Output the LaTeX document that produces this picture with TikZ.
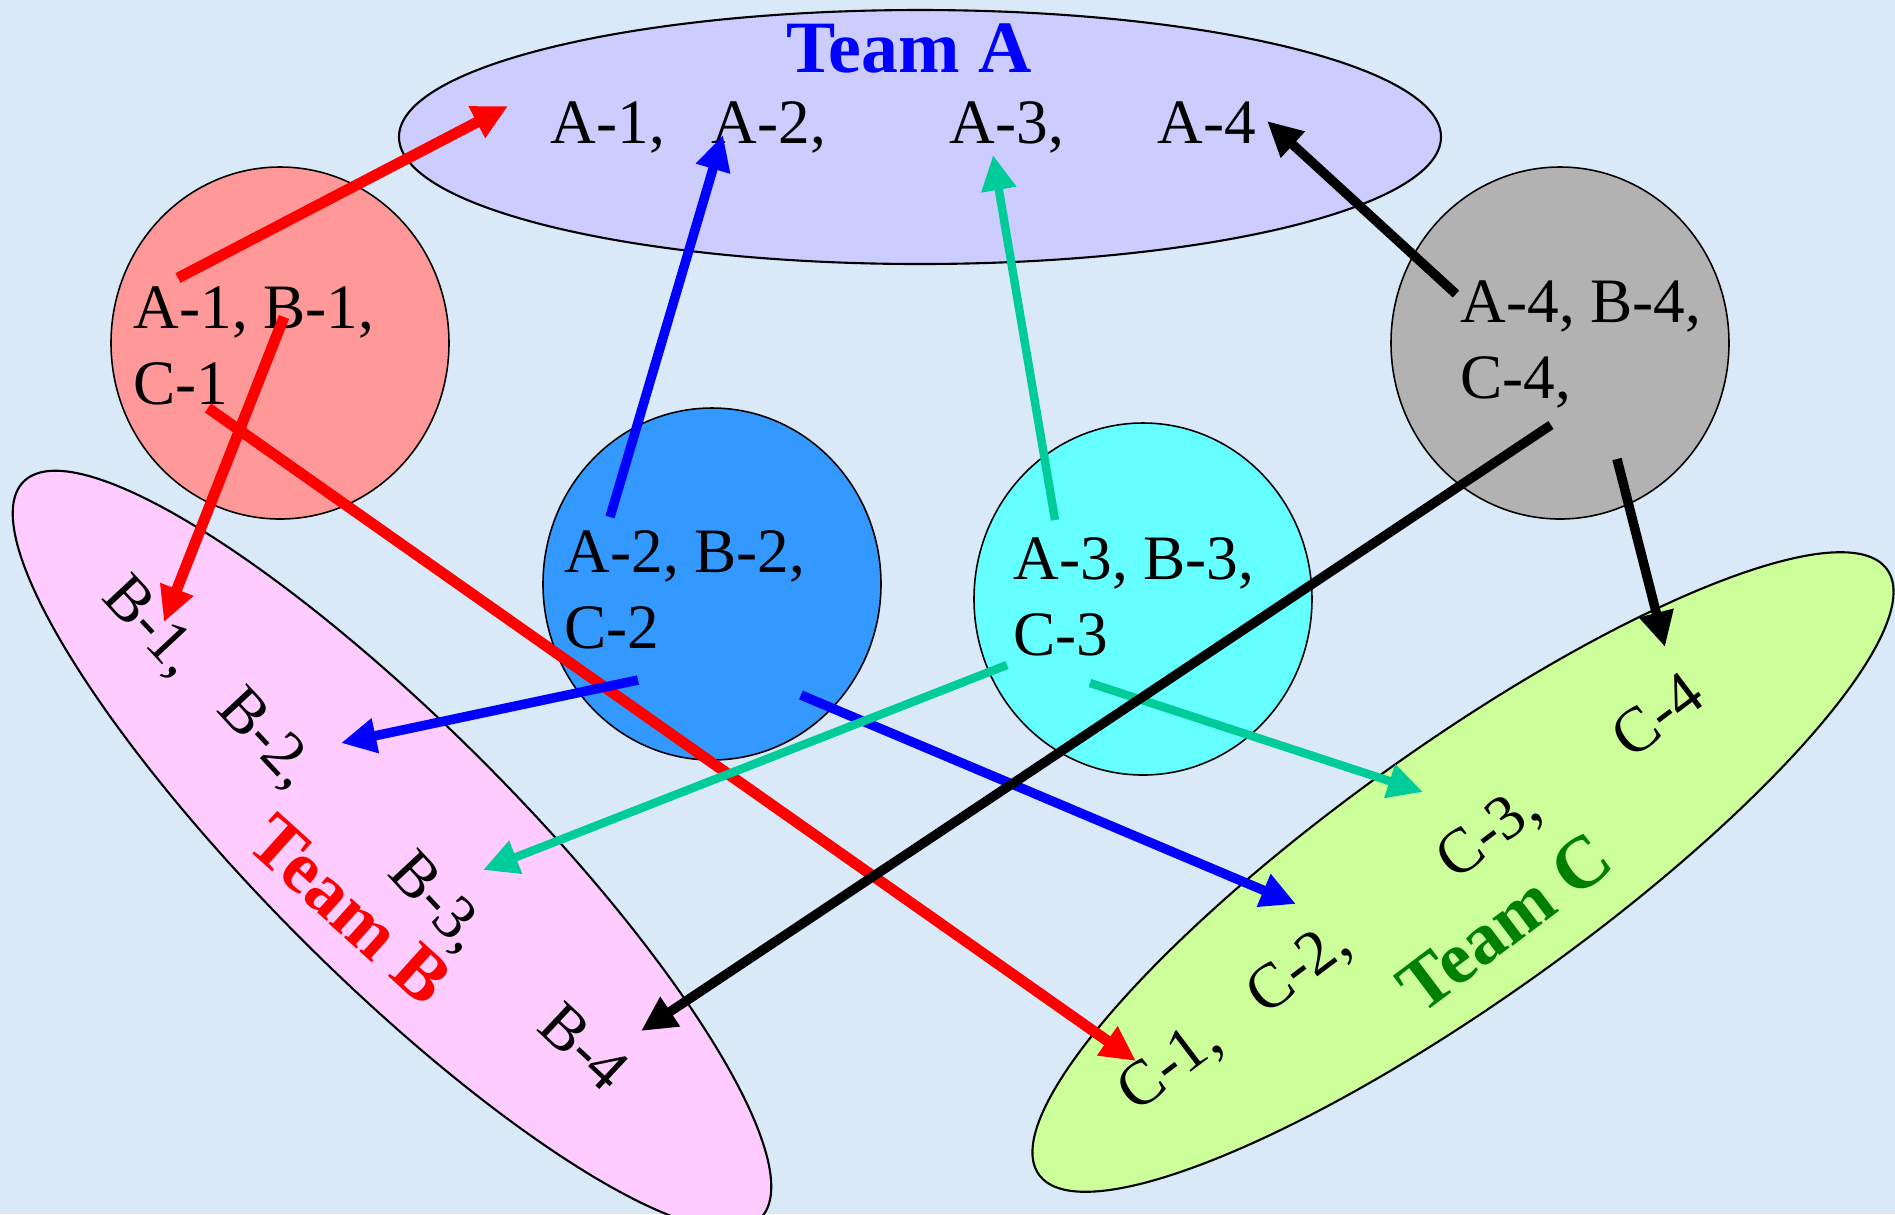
\documentclass[tikz,border=0pt]{standalone}
\usepackage{fontspec}
\setmainfont{Liberation Serif}
\usepackage{xcolor}
\usetikzlibrary{shapes.geometric, arrows.meta}

\definecolor{bgblue}{RGB}{218,233,247}
\definecolor{teamAfill}{RGB}{204,204,255}
\definecolor{teamBfill}{RGB}{255,204,255}
\definecolor{teamCfill}{RGB}{204,255,153}
\definecolor{g1fill}{RGB}{255,153,153}
\definecolor{g2fill}{RGB}{51,153,255}
\definecolor{g3fill}{RGB}{102,255,255}
\definecolor{g4fill}{RGB}{178,178,178}
\definecolor{linkteal}{RGB}{0,204,153}
\definecolor{teamCgreen}{RGB}{0,128,0}

\begin{document}
\begin{tikzpicture}[>={Triangle[length=10pt, width=9.5pt]}]
        % Styles
        \tikzset{
            team/.style={draw, ellipse, line width=0.6pt, minimum width=10.42cm, minimum height=2.54cm, inner sep=0pt},
            group/.style={draw, ellipse, line width=0.45pt, minimum width=3.38cm, minimum height=3.52cm, inner sep=0pt},
            item/.style={font=\fontsize{18}{21.5}\selectfont, inner sep=0pt},
            list/.style={item, align=left, anchor=north west},
            teamlabel/.style={font=\fontsize{21}{25}\selectfont\bfseries, inner sep=0pt},
            link/.style={->, line width=2.7pt}
        }

        % Background
        \fill [bgblue] (0,0) rectangle (18.95,-12.14);
        \useasboundingbox (0,0) rectangle (18.95,-12.14);

        % Team ellipses
        \node [team, fill=teamAfill] (teamA) at (9.20,-1.37) {};
        \node [team, fill=teamBfill, rotate=-45] (teamB) at (3.92,-8.50) {};
        \node [team, fill=teamCfill, rotate=35.5] (teamC) at (14.63,-8.72) {};

        % Mixed groups
        \node [group, fill=g1fill] (g1) at (2.80,-3.43) {};
        \node [group, fill=g2fill] (g2) at (7.12,-5.84) {};
        \node [group, fill=g3fill] (g3) at (11.43,-5.99) {};
        \node [group, fill=g4fill] (g4) at (15.60,-3.43) {};

        \node [list] (g1txt) at (1.33,-2.86) {A-1, B-1,\\C-1};
        \node [list] (g2txt) at (5.64,-5.30) {A-2, B-2,\\C-2};
        \node [list] (g3txt) at (10.13,-5.37) {A-3, B-3,\\C-3};
        \node [list] (g4txt) at (14.60,-2.80) {A-4, B-4,\\C-4,};

        % Team A
        \node [teamlabel, text=blue] (lblA) at (9.09,-0.48) {Team A};
        \node [item, anchor=base west] (a1) at (5.50,-1.43) {A-1,};
        \node [item, anchor=base west] (a2) at (7.11,-1.43) {A-2,};
        \node [item, anchor=base west] (a3) at (9.49,-1.43) {A-3,};
        \node [item, anchor=base west] (a4) at (11.57,-1.43) {A-4};

        % Team B
        \node [teamlabel, text=red, rotate=-42] (lblB) at (3.50,-9.10) {Team B};
        \node [item, rotate=-47] (b1) at (1.50,-6.28) {B-1,};
        \node [item, rotate=-47] (b2) at (2.65,-7.40) {B-2,};
        \node [item, rotate=-47] (b3) at (4.36,-9.04) {B-3,};
        \node [item, rotate=-43] (b4) at (5.84,-10.47) {B-4};

        % Team C
        \node [teamlabel, text=teamCgreen, rotate=37] (lblC) at (15.05,-9.22) {Team C};
        \node [item, rotate=37] (c1) at (11.71,-10.67) {C-1,};
        \node [item, rotate=37] (c2) at (13.00,-9.70) {C-2,};
        \node [item, rotate=37] (c3) at (14.90,-8.35) {C-3,};
        \node [item, rotate=37] (c4) at (16.57,-7.15) {C-4};

        % Arrow ends
        \coordinate (g1a) at (1.78,-2.78);  \coordinate (toA1) at (5.08,-1.06);
        \coordinate (g1b) at (2.84,-3.17);  \coordinate (toB1) at (1.64,-6.22);
        \coordinate (g1c) at (2.08,-4.08);  \coordinate (toC1) at (11.36,-10.61);
        \coordinate (g2a) at (6.10,-5.17);  \coordinate (toA2) at (7.23,-1.35);
        \coordinate (g2b) at (6.38,-6.80);  \coordinate (toB2) at (3.41,-7.43);
        \coordinate (g2c) at (8.01,-6.95);  \coordinate (toC2) at (12.96,-9.04);
        \coordinate (g3a) at (10.55,-5.20); \coordinate (toA3) at (9.93,-1.55);
        \coordinate (g3b) at (10.07,-6.65); \coordinate (toB3) at (4.83,-8.70);
        \coordinate (g3c) at (10.90,-6.83); \coordinate (toC3) at (14.23,-7.92);
        \coordinate (g4a) at (14.56,-2.94); \coordinate (toA4) at (12.67,-1.21);
        \coordinate (g4b) at (15.51,-4.25); \coordinate (toB4) at (6.41,-10.31);
        \coordinate (g4c) at (16.17,-4.59); \coordinate (toC4) at (16.65,-6.47);

        % Arrows
        \draw [link, red, line width=3.1pt] (g1a) -- (toA1);
        \draw [link, red, line width=3.1pt] (g1b) -- (toB1);
        \draw [link, red, line width=3.1pt] (g1c) -- (toC1);
        \draw [link, blue] (g2a) -- (toA2);
        \draw [link, blue] (g2b) -- (toB2);
        \draw [link, blue] (g2c) -- (toC2);
        \draw [link, linkteal, line width=2.4pt] (g3a) -- (toA3);
        \draw [link, linkteal, line width=2.4pt] (g3b) -- (toB3);
        \draw [link, linkteal, line width=2.4pt] (g3c) -- (toC3);
        \draw [link, black] (g4a) -- (toA4);
        \draw [link, black] (g4b) -- (toB4);
        \draw [link, black] (g4c) -- (toC4);
    \end{tikzpicture}
\end{document}
